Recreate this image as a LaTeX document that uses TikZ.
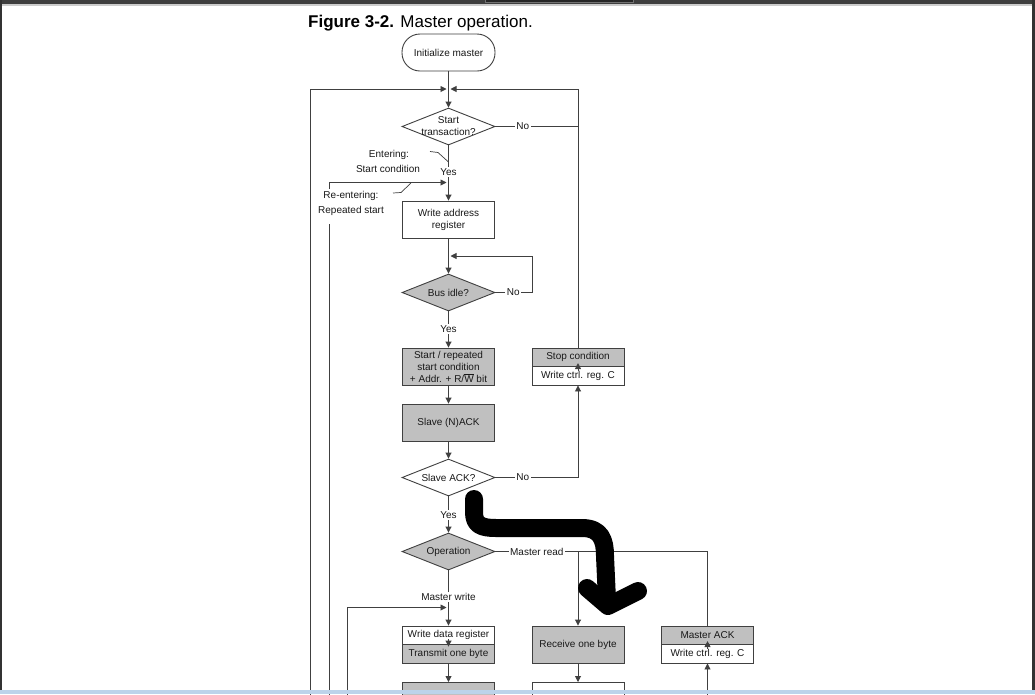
\documentclass[tikz,border=0pt]{standalone}
\usepackage{fontspec}
\setmainfont{Liberation Sans}
\usetikzlibrary{shapes.geometric,arrows.meta,calc}
\definecolor{ln}{HTML}{404040}
\definecolor{gf}{HTML}{C0C0C0}
\definecolor{barc}{HTML}{3E3E3E}
\definecolor{bluec}{HTML}{BCD3EA}
\begin{document}
\begin{tikzpicture}[x=1pt,y=-1pt,
  font=\fontsize{10}{12}\selectfont,
  box/.style={draw=ln,line width=0.9pt,minimum width=92pt,minimum height=37pt,inner sep=0pt,align=center,text=black!90},
  gbox/.style={box,fill=gf},
  half/.style={draw=ln,line width=0.9pt,minimum width=92pt,minimum height=18.5pt,inner sep=0pt,text=black!90},
  dec/.style={shape=diamond,draw=ln,line width=0.9pt,minimum width=93pt,minimum height=37pt,inner sep=0pt},
  lbl/.style={align=center,inner sep=0pt,text=black!90},
  cn/.style={draw=ln,line width=0.9pt},
  arr/.style={cn,-{Triangle[length=6pt,width=6pt]}},
  tag/.style={fill=white,inner sep=1.5pt,text=black!90},
  hand/.style={draw=black,line width=18pt,line cap=round,line join=round}
]
\useasboundingbox (0,0) rectangle (1035,694);
\fill[white] (0,0) rectangle (1035,694);

% title
\node[anchor=base west,inner sep=0pt,font=\fontsize{17}{20}\selectfont] (title) at (308,27) {\textbf{Figure 3-2.} Master operation.};

% main column
\node[box,minimum width=93pt,rounded corners=18pt] (init) at (448.5,52.5) {Initialize master};
\node[dec] (d1) at (448.5,126.5) {};
\node[lbl] (d1t) at (d1.center) {Start\\transaction?};
\node[box] (wa) at (448.5,219.5) {Write address\\register};
\node[dec,fill=gf] (d2) at (448.5,292.5) {};
\node[lbl] (d2t) at (d2.center) {Bus idle?};
\node[gbox] (sr) at (448.5,366.5) {Start / repeated\\start condition\\+ Addr. + R/$\overline{\mbox{W}}$ bit};
\node[gbox] (sn) at (448.5,422.5) {Slave (N)ACK};
\node[dec] (d3) at (448.5,477.5) {};
\node[lbl] (d3t) at (d3.center) {Slave ACK?};
\node[dec,fill=gf] (d4) at (448.5,551.5) {};
\node[lbl] (d4t) at (d4.center) {Operation};
\node[half] (wdA) at (448.5,635.25) {Write data register};
\node[half,fill=gf] (wdB) at (448.5,653.75) {Transmit one byte};
\node[gbox,anchor=north] (n1) at (448.5,682) {};

% right columns
\node[half,fill=gf] (stopA) at (578,357.25) {Stop condition};
\node[half,fill=white] (stopB) at (578,375.75) {Write ctrl. reg. C};
\node[gbox] (rx) at (578,644.5) {Receive one byte};
\node[box,anchor=north] (n2) at (578,682) {};
\node[half,fill=gf] (maA) at (707.5,635.25) {Master ACK};
\node[half,fill=white] (maB) at (707.5,653.75) {Write ctrl. reg. C};

% free ends and junctions
\coordinate (jl) at (446.5,89);
\coordinate (jr) at (450.5,89);
\coordinate (lb1) at (310,700);
\coordinate (lb2a) at (329,700);
\coordinate (lb2b) at (329,224);
\coordinate (lb2c) at (329,188.5);
\coordinate (je) at (446.5,182.5);
\coordinate (lb3) at (347,700);
\coordinate (jw) at (446.5,607.5);
\coordinate (mab) at (707.5,700);
\coordinate (bl) at (532,256);
\coordinate (bj) at (450.5,256);

% connectors
\draw[arr] (init.south) -- (d1.north);
\draw[arr] (lb1) |- (jl);
\draw[arr] (stopA.north) |- (jr);
\draw[cn] (d1.east) -- node[tag,pos=0.33]{No} (d1.east -| stopA.north);
\draw[arr] (d1.south) -- node[tag,pos=0.49]{Yes} (wa.north);
\draw[cn] (lb2a) -- (lb2b);
\draw[arr] (lb2c) |- (je);
\draw[arr] (wa.south) -- (d2.north);
\draw[arr] (d2.east) -- node[tag,pos=0.49]{No} (d2.east -| bl) |- (bj);
\draw[arr] (d2.south) -- node[tag,pos=0.49]{Yes} (sr.north);
\draw[arr] (sr.south) -- (sn.north);
\draw[arr] (sn.south) -- (d3.north);
\draw[arr] (d3.east) -- node[tag,pos=0.33]{No} (d3.east -| stopB.south) -- (stopB.south);
\draw[arr] ([yshift=-5pt]stopB.north) -- ([yshift=3pt]stopB.north);
\draw[arr] (d3.south) -- node[tag,pos=0.51]{Yes} (d4.north);
\draw[cn] (d4.east) -- node[tag,pos=0.195]{Master read} (d4.east -| maA.north) -- (maA.north);
\draw[arr] (d4.east -| rx.north) -- (rx.north);
\draw[arr] (d4.south) -- node[tag,pos=0.48]{Master write} (wdA.north);
\draw[arr] (lb3) |- (jw);
\draw[arr] ([yshift=5pt]wdB.north) -- ([yshift=-2.5pt]wdB.north);
\draw[arr] (wdB.south) -- (n1.north);
\draw[arr] (rx.south) -- (n2.north);
\draw[arr] (mab) -- (maB.south);
\draw[arr] ([yshift=-5pt]maB.north) -- ([yshift=3pt]maB.north);

% annotations
\node[lbl] (ent1) at (389,155) {Entering:};
\node[lbl] (ent2) at (388,169) {Start condition};
\node[lbl] (re1) at (351,196) {Re-entering:};
\node[lbl] (re2) at (351,211) {Repeated start};
\coordinate (p1) at (430,151.5);
\coordinate (p2) at (438,152.5);
\coordinate (p3) at (448.5,162);
\draw[cn,line width=0.7pt] (p1) -- (p2) -- (p3);
\coordinate (q1) at (393,193);
\coordinate (q2) at (401,192.5);
\coordinate (q3) at (411,183);
\draw[cn,line width=0.7pt] (q1) -- (q2) -- (q3);

% hand-drawn arrow
\coordinate (h0) at (474,499);
\coordinate (h1) at (474,512);
\coordinate (h2) at (496,528);
\coordinate (h3) at (582,528);
\coordinate (h4) at (605,556);
\coordinate (h5) at (607,600);
\coordinate (ha) at (587,588);
\coordinate (hb) at (608,606);
\coordinate (hc) at (638,591);
\draw[hand] (h0) -- (h1) .. controls (474,525) and (481,528) .. (h2) -- (h3) .. controls (601,528) and (605,540) .. (h4) -- (h5);
\draw[hand] (ha) -- (hb) -- (hc);

% window frame
\fill[barc] (0,0) rectangle (1035,4);
\fill[black!20] (0,4) rectangle (1035,5.5);
\draw[black!55,line width=0.8pt,fill=black!85] (485,-1) rectangle (633,2);
\fill[barc!80!black] (0,0) rectangle (2,694);
\fill[barc!80!black] (1032,0) rectangle (1035,694);
\fill[bluec] (0,690) rectangle (1035,694);
\end{tikzpicture}
\end{document}
